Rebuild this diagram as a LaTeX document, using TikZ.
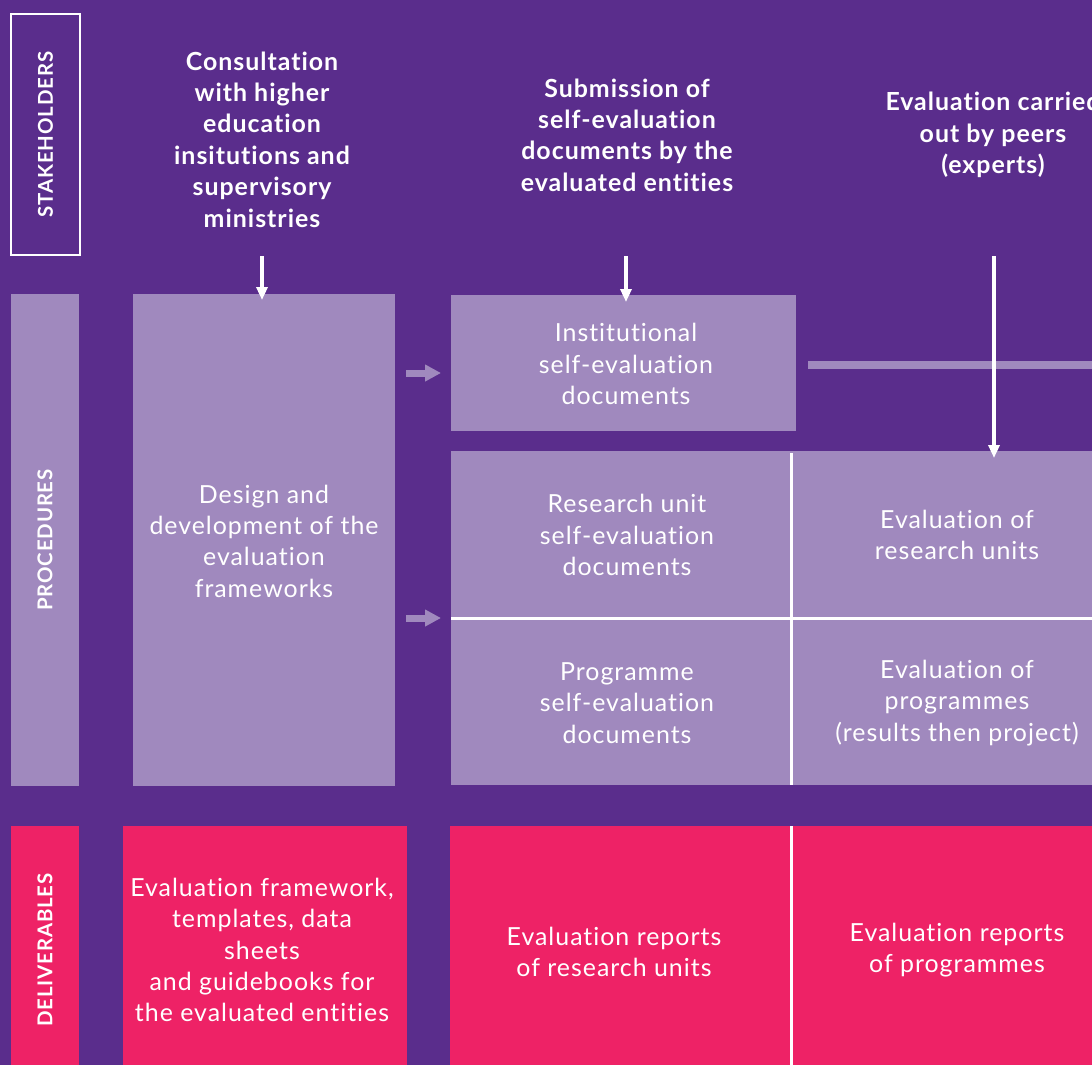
\documentclass[tikz,border=0pt]{standalone}
\usepackage{fontspec}
\setmainfont{Lato}[LetterSpace=4, Ligatures=NoCommon]
\usetikzlibrary{arrows.meta}
\definecolor{bgpurple}{RGB}{90,45,140}
\definecolor{lightbox}{RGB}{160,137,190}
\definecolor{pinkbox}{RGB}{238,34,102}
\begin{document}
\begin{tikzpicture}[x=1bp,y=-1bp,
  txt/.style={text=white, font=\fontsize{25}{31.5}\selectfont, align=center, inner sep=0pt},
  head/.style={text=white, font=\bfseries\fontsize{25}{31.5}\selectfont, align=center, inner sep=0pt},
  side/.style={text=white, font=\bfseries\fontsize{20.5}{24}\selectfont, rotate=90, inner sep=0pt},
  lbox/.style={fill=lightbox, inner sep=0pt, outer sep=0pt},
  pbox/.style={fill=pinkbox, inner sep=0pt, outer sep=0pt},
  warrow/.style={draw=white, line width=4bp, -{Triangle[width=11bp,length=13bp]}},
  larrow/.style={draw=lightbox, line width=7bp, -{Triangle[width=16bp,length=16bp]}},
  divider/.style={draw=white, line width=3bp}
]
\useasboundingbox (0,0) rectangle (1092,1065);
\fill[bgpurple] (0,0) rectangle (1092,1065);

% ---- side labels ----
\node[draw=white, line width=2bp, minimum width=68bp, minimum height=241bp, inner sep=0pt] (stkbox) at (45.5,134.5) {};
\node[side] (stk) at (stkbox.center) {STAKEHOLDERS};
\node[lbox, minimum width=68bp, minimum height=492bp] (procbox) at (45,540) {};
\node[side] (proc) at (procbox.center) {PROCEDURES};
\node[pbox, minimum width=68bp, minimum height=240bp] (delbox) at (45,946) {};
\node[side] (del) at (45,950) {DELIVERABLES};

% ---- stakeholder headings ----
\node[head] (h1) at (262,139.5) {Consultation\\with higher\\education\\insitutions and\\supervisory\\ministries};
\node[head] (h2) at (627,135) {Submission of\\self-evaluation\\documents by the\\evaluated entities};
\node[head] (h3) at (993,135) {Evaluation carried\\out by peers\\(experts)};

% ---- procedures ----
\node[lbox, minimum width=262bp, minimum height=492bp] (design) at (264,540) {};
\node[txt] (designT) at (264,541) {Design and\\development of the\\evaluation\\frameworks};

\node[lbox, minimum width=345bp, minimum height=136bp] (inst) at (623.5,363) {};
\node[txt] (instT) at (626,364) {Institutional\\self-evaluation\\documents};

\node[lbox, minimum width=340bp, minimum height=167bp] (ru) at (621,534.5) {};
\node[txt] (ruT) at (627,535) {Research unit\\self-evaluation\\documents};
\node[lbox, minimum width=301bp, minimum height=167bp] (evru) at (941.5,534.5) {};
\node[txt] (evruT) at (957,535) {Evaluation of\\research units};
\node[lbox, minimum width=340bp, minimum height=167bp] (prog) at (621,701.5) {};
\node[txt] (progT) at (627,703) {Programme\\self-evaluation\\documents};
\node[lbox, minimum width=301bp, minimum height=167bp] (evprog) at (941.5,701.5) {};
\node[txt] (evprogT) at (957,703) {Evaluation of\\programmes\\(results then project)};

\draw[divider] (ru.south west) -- (evru.south east);
\draw[divider] ([yshift=-2bp]ru.north east) -- (prog.south east);

% ---- deliverables ----
\node[pbox, minimum width=284bp, minimum height=240bp] (d1) at (265,946) {};
\node[txt] (d1T) at (262,950) {Evaluation framework,\\templates, data\\sheets\\and guidebooks for\\the evaluated entities};
\node[pbox, minimum width=341bp, minimum height=240bp] (d2) at (620.5,946) {};
\node[txt] (d2T) at (614,952) {Evaluation reports\\of research units};
\node[pbox, minimum width=301bp, minimum height=240bp] (d3) at (941.5,946) {};
\node[txt] (d3T) at (957,950) {Evaluation reports\\of programmes};
\draw[divider] (d2.north east) -- (d2.south east);

% ---- connectors ----
\coordinate (barS) at (808,365);
\coordinate (barE) at (1092,365);
\draw[lightbox, line width=8bp] (barS) -- (barE);

\coordinate (a1) at (262,256);
\coordinate (a2) at (626,256);
\coordinate (a3) at (994,256);
\draw[warrow] (a1) -- ([yshift=-6bp]a1 |- design.north);
\draw[warrow] (a2) -- ([yshift=-7bp]a2 |- inst.north);
\draw[warrow] (a3) -- ([yshift=-7bp]a3 |- evru.north);

\coordinate (l1s) at (406,373);
\coordinate (l2s) at (406,618);
\draw[larrow] (l1s) -- ([xshift=-10bp]l1s -| inst.west);
\draw[larrow] (l2s) -- ([xshift=-10bp]l2s -| prog.west);
\end{tikzpicture}
\end{document}
